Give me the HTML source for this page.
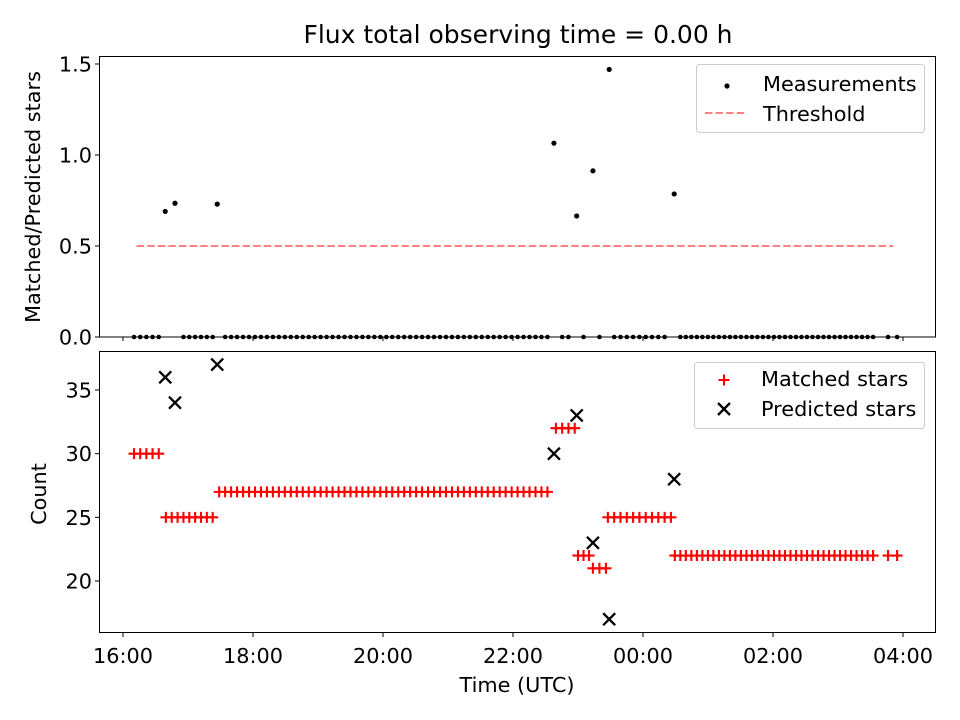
<!DOCTYPE html>
<html><head><meta charset="utf-8"><style>
body{margin:0;background:#fff;}
svg{display:block;font-family:"DejaVu Sans","Liberation Sans",sans-serif;}
.t{font-size:20.8px;}
.ti{font-size:25px;}
</style></head><body>
<svg id="c" width="960" height="720" xmlns="http://www.w3.org/2000/svg"></svg>
<script>
// runs of matched stars: [startHour, endHour, pointCount, matchedCount]
const runStarts=[16.17,16.66,17.48,22.66,23.0,23.23,23.46,24.49,27.77];
const runEnds=[16.55,17.38,22.53,22.95,23.17,23.43,24.43,27.54,27.91];
const runCounts=[5,9,56,4,3,3,11,37,2];
const runValues=[30,25,27,32,22,21,25,22,22];
// predicted stars
const predTimes=[16.65,16.8,17.45,22.63,22.98,23.23,23.48,24.48];
const predValues=[36,34,37,30,33,23,17,28];
// nonzero measurement ratios
const measTimes=[16.65,16.8,17.45,22.63,22.98,23.23,23.48,24.48];
const measValues=[0.69,0.735,0.73,1.065,0.665,0.913,1.47,0.786];
const threshold=0.5, threshStart=16.21, threshEnd=27.85;
const xTicks=[16,18,20,22,24,26,28];
const xTickLabels=["16:00","18:00","20:00","22:00","00:00","02:00","04:00"];
const topTicks=[0,0.5,1.0,1.5];
const botTicks=[20,25,30,35];

const NS="http://www.w3.org/2000/svg";
const svg=document.getElementById('c');
const X0=99,X1=936,XMIN=15.631,XMAX=28.508;
const x=h=>X0+(h-XMIN)/(XMAX-XMIN)*(X1-X0);
const yT=v=>337-v*182;
const yB=v=>581-(v-20)*12.733;
function el(t,a,p){const e=document.createElementNS(NS,t);for(const k in a)e.setAttribute(k,a[k]);(p||svg).appendChild(e);return e;}
function txt(s,a,p){const e=el('text',a,p);e.textContent=s;if(!a['class'])e.setAttribute('class','t');return e;}

const times=[],matched=[];
runStarts.forEach((s,i)=>{const n=runCounts[i];for(let j=0;j<n;j++){times.push(n>1?s+(runEnds[i]-s)*j/(n-1):s);matched.push(runValues[i]);}});

let e;
e=txt("Flux total observing time = 0.00 h",{x:518,y:43,'text-anchor':'middle','class':'ti'});


// TOP PANEL
const gT=el('g',{});
e=el('line',{x1:x(threshStart),x2:x(threshEnd),y1:yT(threshold),y2:yT(threshold),stroke:'#ff8080','stroke-width':2,'stroke-dasharray':'7.4,3.2'},gT);

times.forEach(t=>{if(measTimes.some(m=>Math.abs(m-t)<0.06))return;
 const d=el('circle',{cx:x(t),cy:yT(0),r:2.3,fill:'#000'},gT);
 });
measTimes.forEach((t,i)=>{const d=el('circle',{cx:x(t),cy:yT(measValues[i]),r:2.6,fill:'#000'},gT);
 });
el('rect',{x:99.5,y:56.5,width:836,height:280.5,fill:'none',stroke:'#000','stroke-width':1},gT);
topTicks.forEach(v=>{el('line',{x1:95,x2:99,y1:yT(v),y2:yT(v),stroke:'#000'},gT);
 const l=txt(v.toFixed(1),{x:92,y:yT(v)+7.5,'text-anchor':'end'},gT);
 });
xTicks.forEach(t=>el('line',{x1:x(t),x2:x(t),y1:337,y2:341,stroke:'#000'},gT));
e=txt("Matched/Predicted stars",{x:0,y:0,transform:'translate(40,197) rotate(-90)','text-anchor':'middle'});

const lg=el('g',{});
el('rect',{x:696.5,y:64.5,width:228,height:68,rx:3,fill:'#fff',stroke:'#ccc'},lg);
el('circle',{cx:727,cy:86,r:2.6,fill:'#000'},lg);
e=txt("Measurements",{x:763,y:91},lg);
el('line',{x1:705,x2:746,y1:113,y2:113,stroke:'#ff8080','stroke-width':2,'stroke-dasharray':'7.4,3.2'},lg);
e=txt("Threshold",{x:763,y:121},lg);

// BOTTOM PANEL
const gB=el('g',{});
times.forEach((t,i)=>{const cx=x(t),cy=yB(matched[i]);
 const p=el('path',{d:`M${cx-5.5},${cy}H${cx+5.5}M${cx},${cy-5.5}V${cy+5.5}`,stroke:'#f00','stroke-width':2.1},gB);
 });
predTimes.forEach((t,i)=>{const cx=x(t),cy=yB(predValues[i]);
 const p=el('path',{d:`M${cx-6},${cy-6}L${cx+6},${cy+6}M${cx-6},${cy+6}L${cx+6},${cy-6}`,stroke:'#000','stroke-width':2.3},gB);
 });
el('rect',{x:99.5,y:351.5,width:836,height:281,fill:'none',stroke:'#000','stroke-width':1},gB);
botTicks.forEach(v=>{el('line',{x1:95,x2:99,y1:yB(v),y2:yB(v),stroke:'#000'},gB);
 const l=txt(String(v),{x:92,y:yB(v)+7.5,'text-anchor':'end'},gB);
 });
xTicks.forEach((t,i)=>{el('line',{x1:x(t),x2:x(t),y1:633,y2:637,stroke:'#000'},gB);
 const l=txt(xTickLabels[i],{x:x(t),y:663,'text-anchor':'middle'},gB);
 });
e=txt("Count",{x:0,y:0,transform:'translate(46,494) rotate(-90)','text-anchor':'middle'});

e=txt("Time (UTC)",{x:517,y:692,'text-anchor':'middle'});

const lb=el('g',{});
el('rect',{x:694.5,y:362.5,width:230,height:66,rx:3,fill:'#fff',stroke:'#ccc'},lb);
el('path',{d:'M718.5,380H729.5M724,374.5V385.5',stroke:'#f00','stroke-width':2.1},lb);
e=txt("Matched stars",{x:761,y:386},lb);
el('path',{d:'M718,403L730,415M718,415L730,403',stroke:'#000','stroke-width':2.3},lb);
e=txt("Predicted stars",{x:761,y:416},lb);
</script>
</body></html>
